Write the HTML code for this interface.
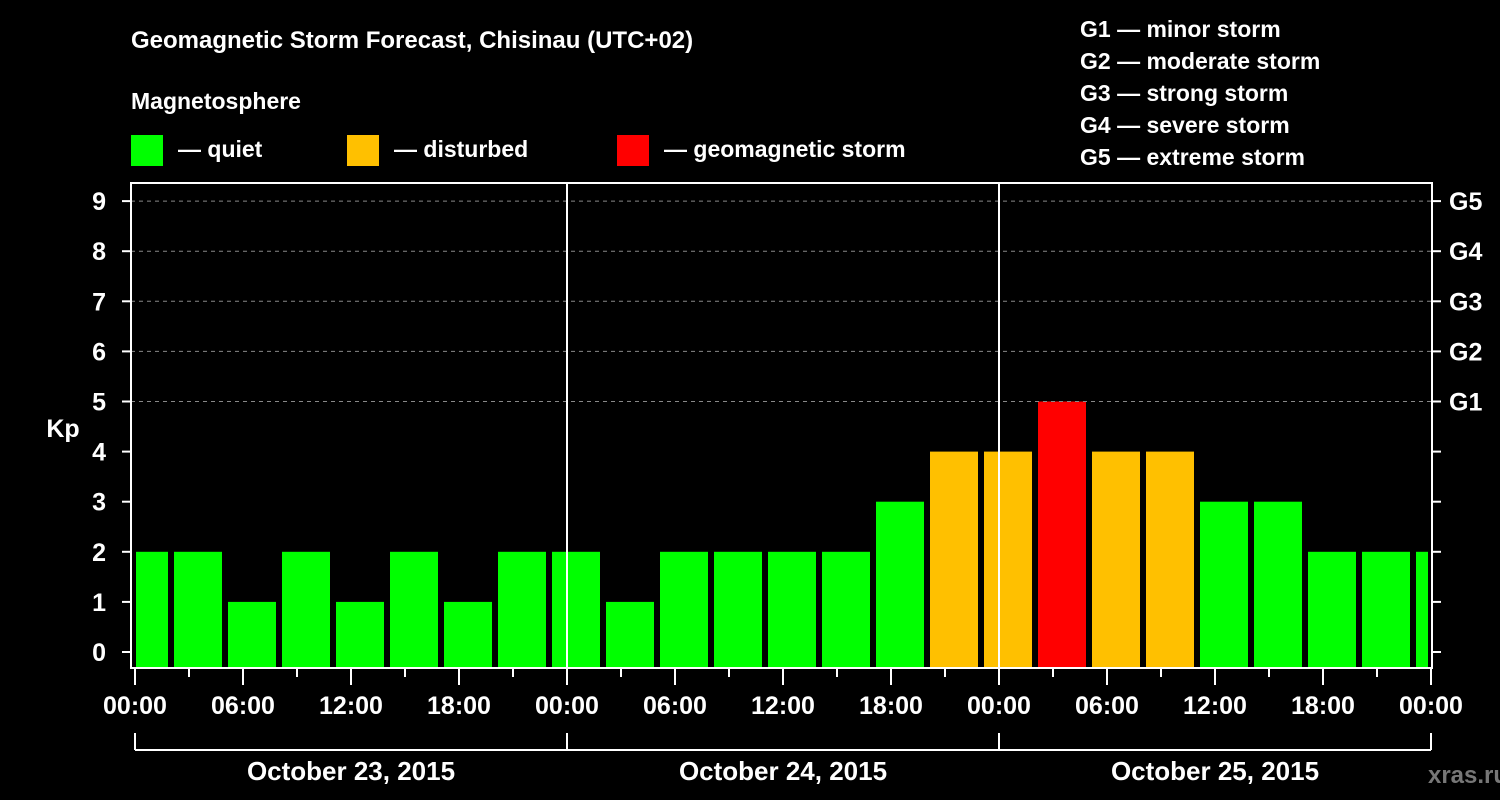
<!DOCTYPE html>
<html><head><meta charset="utf-8"><style>
body{margin:0;background:#000;}
svg{display:block;font-family:"Liberation Sans",sans-serif;font-weight:bold;}
</style></head><body>
<svg id="chart" width="1500" height="800" viewBox="0 0 1500 800">
<rect width="1500" height="800" fill="#000"/>
<text x="131" y="48" fill="#fff" font-size="24">Geomagnetic Storm Forecast, Chisinau (UTC+02)</text>
<text x="131" y="109" fill="#fff" font-size="23">Magnetosphere</text>
<g><rect x="131" y="135" width="32" height="31" fill="#00ff00"/><text x="178" y="157" fill="#fff" font-size="23">— quiet</text></g>
<g><rect x="347" y="135" width="32" height="31" fill="#ffc000"/><text x="394" y="157" fill="#fff" font-size="23">— disturbed</text></g>
<g><rect x="617" y="135" width="32" height="31" fill="#ff0000"/><text x="664" y="157" fill="#fff" font-size="23">— geomagnetic storm</text></g>
<g fill="#fff" font-size="23">
<text x="1080" y="37">G1 — minor storm</text>
<text x="1080" y="69">G2 — moderate storm</text>
<text x="1080" y="101">G3 — strong storm</text>
<text x="1080" y="133">G4 — severe storm</text>
<text x="1080" y="165">G5 — extreme storm</text>
</g>
<text x="63" y="437" fill="#fff" font-size="25" text-anchor="middle">Kp</text>
<text x="1468" y="783" fill="#777" font-size="24" text-anchor="middle">xras.ru</text>
<g id="bars"></g>
<g id="axes"></g>
</svg>
<script>
const kpValues=[2,2,1,2,1,2,1,2, 2,1,2,2,2,2,3,4, 4,5,4,4,3,3,2,2, 2];
const barStartHour=-1;
const barHours=3;
const yTicks=[0,1,2,3,4,5,6,7,8,9];
const gLabels=["G1","G2","G3","G4","G5"];
const gLevels=[5,6,7,8,9];
const xTickLabels=["00:00","06:00","12:00","18:00","00:00","06:00","12:00","18:00","00:00","06:00","12:00","18:00","00:00"];
const dayLabels=["October 23, 2015","October 24, 2015","October 25, 2015"];

const NS="http://www.w3.org/2000/svg";
const L=131,R=1432,T=183,B=668,X0=135,X1=1431,H0=0,H1=72;
const x=h=>X0+(h-H0)*(X1-X0)/(H1-H0);
const y=k=>652-k*50.1;
function mk(tag,attrs,parent){const e=document.createElementNS(NS,tag);for(const k in attrs)e.setAttribute(k,attrs[k]);parent.appendChild(e);return e;}
const bars=document.getElementById('bars'),axes=document.getElementById('axes');
// grid
gLevels.forEach(k=>{const g=mk('line',{x1:L,x2:R,y1:y(k),y2:y(k),stroke:'#888','stroke-dasharray':'4 4','stroke-width':1},axes);

});
// bars
kpValues.forEach((v,i)=>{
 let h0=barStartHour+i*barHours,h1=h0+barHours;
 let xa=Math.max(x(h0)+3,x(0)+1),xb=Math.min(x(h1)-3,x(H1)-3);
 const c=v>=5?'#ff0000':(v>=4?'#ffc000':'#00ff00');
 const r=mk('rect',{x:xa,y:y(v),width:xb-xa,height:B-1-y(v),fill:c},bars);
 
 
});
// day lines
[24,48].forEach(h=>{const d=mk('line',{x1:x(h),x2:x(h),y1:T,y2:B,stroke:'#fff','stroke-width':2},axes);

});
// frame
const f=mk('rect',{x:L,y:T,width:R-L,height:B-T,fill:'none',stroke:'#fff','stroke-width':2},axes);


// y ticks
yTicks.forEach(k=>{
 mk('line',{x1:L-9,x2:L,y1:y(k),y2:y(k),stroke:'#fff','stroke-width':2},axes);
 mk('line',{x1:R,x2:R+9,y1:y(k),y2:y(k),stroke:'#fff','stroke-width':2},axes);
 const t=mk('text',{x:106,y:y(k)+9,fill:'#fff','font-size':25,'text-anchor':'end'},axes);
 t.textContent=k;
 
 
});
gLabels.forEach((g,i)=>{const t=mk('text',{x:1449,y:y(gLevels[i])+9,fill:'#fff','font-size':25},axes);
t.textContent=g;

});
// x ticks
for(let h=0;h<=72;h+=3){const long=h%6===0;mk('line',{x1:x(h),x2:x(h),y1:B,y2:B+(long?17:9),stroke:'#fff','stroke-width':2},axes);}
xTickLabels.forEach((s,i)=>{const t=mk('text',{x:x(i*6),y:714,fill:'#fff','font-size':25,'text-anchor':'middle'},axes);
t.textContent=s;

});
// day bracket
mk('line',{x1:x(0),x2:x(72),y1:750,y2:750,stroke:'#fff','stroke-width':2},axes);
[0,24,48,72].forEach(h=>mk('line',{x1:x(h),x2:x(h),y1:733,y2:750,stroke:'#fff','stroke-width':2},axes));
dayLabels.forEach((s,i)=>{const t=mk('text',{x:x(i*24+12),y:780,fill:'#fff','font-size':26,'text-anchor':'middle'},axes);
t.textContent=s;

});
</script>
</body></html>
